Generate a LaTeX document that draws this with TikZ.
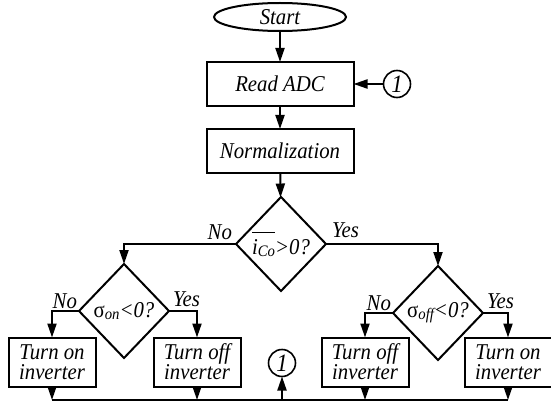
\documentclass[tikz,border=0pt]{standalone}
\usepackage{fontspec}
\setmainfont{Liberation Serif}[FakeStretch=0.92]
\usetikzlibrary{shapes.geometric,arrows.meta}
\begin{document}
\begin{tikzpicture}[x=0.5pt,y=-0.5pt,inner sep=0pt,outer sep=0pt,line width=1pt,
font=\fontsize{11.3}{10}\selectfont\itshape,
>={Triangle[length=7pt,width=4.5pt]},
procblock/.style={draw,rectangle,minimum width=73.5pt,minimum height=22pt,line width=1pt},
outblock/.style={draw,rectangle,align=center,minimum width=43.5pt,minimum height=24.5pt,line width=1pt},
decision/.style={draw,diamond,aspect=1,minimum width=45pt,minimum height=47pt,line width=1pt},
connector/.style={draw,circle,minimum size=13.5pt,line width=0.8pt,font=\fontsize{12.5}{12}\selectfont\itshape}]
\useasboundingbox (0,0) rectangle (551,417);
\draw (280,17) node[draw,ellipse,minimum width=66pt,minimum height=14pt] (start) {Start};
\draw (280,84) node[procblock] (read) {Read ADC};
\draw (397,84) node[connector] (con1) {1};
\draw (280,151) node[procblock] (norm) {Normalization};
\draw (281,244) node[decision] (dec0) {$\overline{\mbox{\itshape\rule{0pt}{1.9ex}i\raisebox{-0.2ex}{\footnotesize Co}}}$>0?};
\draw (124,311) node[decision] (decon) {{\upshape σ}\raisebox{-0.2ex}{\footnotesize on}<0?};
\draw (438,313) node[decision] (decoff) {{\upshape σ}\raisebox{-0.2ex}{\footnotesize off}<0?};
\draw (52,362) node[outblock] (onL) {Turn on\\inverter};
\draw (197,362) node[outblock] (offL) {Turn off\\inverter};
\draw (365,362) node[outblock] (offR) {Turn off\\inverter};
\draw (508,362) node[outblock] (onR) {Turn on\\inverter};
\draw (282,363) node[connector] (con2) {1};
\coordinate (busL) at (52,400);
\coordinate (busR) at (508,400);
\draw[->] (start) -- (read);
\draw[->] (con1) -- (read);
\draw[->] (read) -- (norm);
\draw[->] (norm) -- (dec0);
\draw[->] (dec0.west) node[above left=2pt] {No} -| (decon.north);
\draw[->] (dec0.east) node[above right=3pt] {Yes} -| (decoff.north);
\draw[->] (decon.west) node[above left=1pt] {No} -| (onL.north);
\draw[->] (decon.east) node[above right=2pt] {Yes} -| (offL.north);
\draw[->] (decoff.west) node[above left=1pt] {No} -| (offR.north);
\draw[->] (decoff.east) node[above right=2pt] {Yes} -| (onR.north);
\draw[->] (onL) -- (onL |- busL);
\draw[->] (offL) -- (offL |- busL);
\draw[->] (offR) -- (offR |- busL);
\draw[->] (onR) -- (onR |- busL);
\draw (busL) -- (busR);
\draw[->] (con2 |- busL) -- (con2);
\end{tikzpicture}
\end{document}
